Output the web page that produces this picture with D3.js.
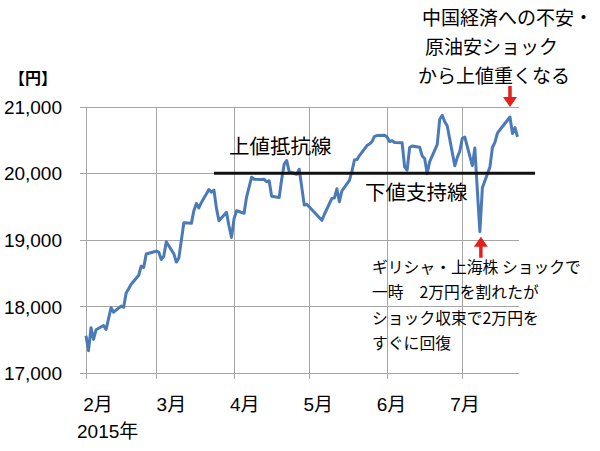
<!DOCTYPE html>
<html><head><meta charset="utf-8">
<script src="https://cdn.jsdelivr.net/npm/d3@7/dist/d3.min.js"></script>
<style>
html,body{margin:0;padding:0;background:#fff;}
svg{display:block;}
text{font-family:"Liberation Sans","Noto Sans CJK JP",sans-serif;fill:#000;}
.jp{font-family:"Noto Sans CJK JP",sans-serif;}
</style></head>
<body>
<svg id="chart" width="600" height="451"></svg>
<script>
// ---- data (Nikkei close, yen) ----
const dates = [
"2015-02-02","2015-02-03","2015-02-04","2015-02-05","2015-02-06","2015-02-09","2015-02-10","2015-02-12","2015-02-13","2015-02-16",
"2015-02-17","2015-02-18","2015-02-19","2015-02-20","2015-02-23","2015-02-24","2015-02-25","2015-02-26","2015-02-27",
"2015-03-02","2015-03-03","2015-03-04","2015-03-05","2015-03-06","2015-03-09","2015-03-10","2015-03-11","2015-03-12","2015-03-13",
"2015-03-16","2015-03-17","2015-03-18","2015-03-19","2015-03-20","2015-03-23","2015-03-24","2015-03-25","2015-03-26","2015-03-27",
"2015-03-30","2015-03-31",
"2015-04-01","2015-04-02","2015-04-03","2015-04-06","2015-04-07","2015-04-08","2015-04-09","2015-04-10","2015-04-13","2015-04-14",
"2015-04-15","2015-04-16","2015-04-17","2015-04-20","2015-04-21","2015-04-22","2015-04-23","2015-04-24","2015-04-27","2015-04-28",
"2015-04-30",
"2015-05-01","2015-05-07","2015-05-08","2015-05-11","2015-05-12","2015-05-13","2015-05-14","2015-05-15","2015-05-18","2015-05-19",
"2015-05-20","2015-05-21","2015-05-22","2015-05-25","2015-05-26","2015-05-27","2015-05-28","2015-05-29",
"2015-06-01","2015-06-02","2015-06-03","2015-06-04","2015-06-05","2015-06-08","2015-06-09","2015-06-10","2015-06-11","2015-06-12",
"2015-06-15","2015-06-16","2015-06-17","2015-06-18","2015-06-19","2015-06-22","2015-06-23","2015-06-24","2015-06-25","2015-06-26",
"2015-06-29","2015-06-30",
"2015-07-01","2015-07-02","2015-07-03","2015-07-06","2015-07-07","2015-07-08","2015-07-09","2015-07-10","2015-07-13","2015-07-14",
"2015-07-15","2015-07-16","2015-07-17","2015-07-21","2015-07-22","2015-07-23","2015-07-24"
];
const closes = [
17558,17336,17679,17505,17649,17712,17653,17980,17913,18005,
17987,18199,18265,18332,18467,18603,18585,18786,18798,
18827,18815,18704,18752,18971,18791,18665,18724,18991,19254,
19246,19437,19544,19477,19560,19754,19713,19746,19471,19286,
19411,19207,
19035,19313,19435,19398,19641,19790,19938,19908,19905,19909,
19870,19886,19653,19634,19909,20134,20188,20020,19983,20059,
19520,
19532,19292,19379,19621,19625,19765,19570,19733,19890,20026,
20197,20203,20264,20414,20437,20473,20551,20563,
20570,20543,20474,20488,20461,20457,20096,20046,20383,20407,
20388,20258,20219,19991,20174,20428,20809,20868,20771,20706,
20110,20236,
20329,20523,20540,20112,20377,19738,19120,19780,20090,20385,
20463,20600,20651,20842,20594,20684,20545
];
const yTicks = [17000,18000,19000,20000,21000];
const monthLabels = ["2月","3月","4月","5月","6月","7月"];
const yearLabel = "2015年";
const unitLabel = "【円】";
const levelValue = 20000;
const levelDates = ["2015-03-25","2015-07-31"];
const levelLabelTop = "上値抵抗線";
const levelLabelBottom = "下値支持線";
const noteTop = ["中国経済への不安・","原油安ショック","から上値重くなる"];
const noteTopDate = "2015-07-21";
const noteBottom = ["ギリシャ・上海株 ショックで","一時　2万円を割れたが","ショック収束で2万円を","すぐに回復"];
const noteBottomDate = "2015-07-09";

// ---- drawing ----
const parse = d3.timeParse("%Y-%m-%d");
const data = dates.map((d,i)=>({date:parse(d), value:closes[i]}));
const svg = d3.select("#chart");
const x = d3.scaleTime().domain([data[0].date, data[data.length-1].date]).range([86, 517.5]);
const y = d3.scaleLinear().domain([17000,21000]).range([373, 106.5]);
const gridColor = "#a6a6a6";
const plotRight = 519;

// horizontal gridlines + y labels
const yAxis = d3.axisLeft(y).tickValues(yTicks).tickSize(-(plotRight-80)).tickFormat(d3.format(","));
const gy = svg.append("g").attr("transform","translate(80,0)").call(yAxis);
gy.select(".domain").remove();
gy.selectAll(".tick line").attr("stroke",gridColor).attr("stroke-width",1).attr("shape-rendering","crispEdges");
gy.selectAll(".tick text").attr("x",-18).attr("dy","0.35em").attr("font-size",19)
  .attr("font-family","'Liberation Sans',Arial,sans-serif").attr("fill","#000");

// vertical gridlines at monthly ticks (Excel date-axis style)
const monthTicks = d3.range(1,6).map(i=>d3.timeMonth.offset(data[0].date,i));
const xAxis = d3.axisBottom(x).tickValues([data[0].date].concat(monthTicks)).tickSize(-(379-106.5)).tickFormat("");
const gx = svg.append("g").attr("transform","translate(0,379)").call(xAxis);
gx.select(".domain").remove();
gx.selectAll(".tick line").attr("stroke",gridColor).attr("stroke-width",1).attr("shape-rendering","crispEdges");

// month labels
const lx = d3.scalePoint().domain(monthLabels).range([98,465]);
svg.append("g").selectAll("text").data(monthLabels).join("text")
  .attr("x",d=>lx(d)).attr("y",411).attr("text-anchor","middle").attr("font-size",19).text(d=>d);
svg.append("text").attr("x",77).attr("y",438).attr("font-size",19).text(yearLabel);
svg.append("text").attr("x",33).attr("y",84).attr("text-anchor","middle").attr("font-size",16)
  .attr("class","jp").attr("font-weight","bold").text(unitLabel);

// series line
const line = d3.line().x(d=>x(d.date)).y(d=>y(d.value));
svg.append("path").datum(data).attr("d",line).attr("fill","none")
  .attr("stroke","#4a7ab8").attr("stroke-width",3).attr("stroke-linejoin","round");

// level line
svg.append("line").attr("x1",x(parse(levelDates[0]))).attr("x2",x(parse(levelDates[1])))
  .attr("y1",y(levelValue)).attr("y2",y(levelValue)).attr("stroke","#111").attr("stroke-width",3);
svg.append("text").attr("class","jp").attr("x",229).attr("y",147).attr("dy","0.36em")
  .attr("font-size",20.5).text(levelLabelTop);
svg.append("text").attr("class","jp").attr("x",365).attr("y",193).attr("dy","0.36em")
  .attr("font-size",20.5).text(levelLabelBottom);

// notes
const topX = [422,425,418], topY = [18,47,76];
svg.append("g").selectAll("text").data(noteTop).join("text").attr("class","jp")
  .attr("x",(d,i)=>topX[i]).attr("y",(d,i)=>topY[i]).attr("dy","0.36em").attr("font-size",19).text(d=>d);
const botY = [267,292,318,343];
svg.append("g").selectAll("text").data(noteBottom).join("text").attr("class","jp")
  .attr("x",372).attr("y",(d,i)=>botY[i]).attr("dy","0.36em").attr("font-size",15.8).text(d=>d);

// arrows
const red = "#e3201b";
function arrow(ax, tipY, dir){ // dir=1 pointing down, -1 pointing up
  const base = tipY - dir*21;
  svg.append("line").attr("x1",ax).attr("x2",ax).attr("y1",base).attr("y2",tipY-dir*6)
    .attr("stroke",red).attr("stroke-width",3.5);
  svg.append("path").attr("d",`M${ax-7},${tipY-dir*10}L${ax+7},${tipY-dir*10}L${ax},${tipY}Z`).attr("fill",red);
}
const dTop = data.find(d=>d.date.getTime()===parse(noteTopDate).getTime());
const dBot = data.find(d=>d.date.getTime()===parse(noteBottomDate).getTime());
arrow(x(dTop.date), y(dTop.value)-10, 1);
arrow(x(dBot.date)+1, y(dBot.value)+5, -1);
</script>
</body></html>
